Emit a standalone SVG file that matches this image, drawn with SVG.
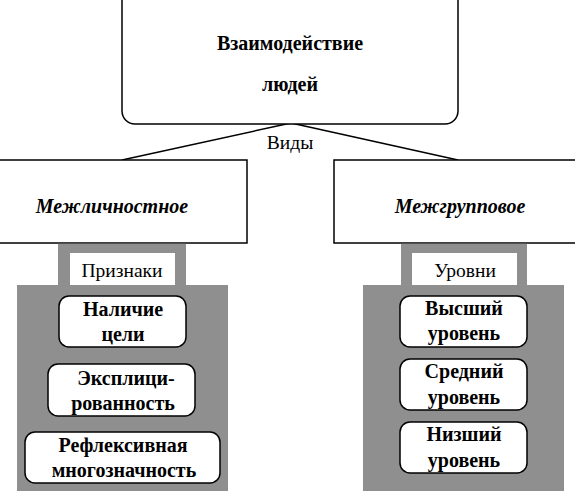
<svg xmlns="http://www.w3.org/2000/svg" width="575" height="491" viewBox="0 0 575 491">
<style>
.box{fill:#fff;stroke:#000;stroke-width:1.5}
.rb{fill:#fff;stroke:#000;stroke-width:1.5}
.gray{fill:#8f8f8f}
.lbl{fill:#fff}
text{font-family:'Liberation Serif','Times New Roman','DejaVu Serif',serif;fill:#000;text-anchor:middle}
.b{font-weight:bold;font-size:20px}
.bi{font-weight:bold;font-style:italic;font-size:20px}
.r{font-size:19.5px}
</style>
<rect width="575" height="491" fill="#fff"/>
<g id="connectors" stroke="#000" stroke-width="1.5" fill="none">
<line x1="291" y1="123" x2="122" y2="160"/>
<line x1="291" y1="123" x2="458" y2="160"/>
</g>
<g id="root">
<rect class="rb" x="122" y="-12" width="336" height="136" rx="13"/>
<text class="b" x="290" y="50">Взаимодействие</text>
<text class="b" x="290" y="91">людей</text>
</g>
<text id="vidy" class="r" x="290" y="149">Виды</text>
<g id="interpersonal">
<rect class="box" x="-2" y="160" width="249" height="83"/>
<text class="bi" x="112" y="213">Межличностное</text>
</g>
<g id="intergroup">
<rect class="box" x="334" y="160" width="243" height="83"/>
<text class="bi" x="460" y="213">Межгрупповое</text>
</g>
<g id="priznaki">
<rect class="gray" x="58" y="243.8" width="128" height="42"/>
<rect class="lbl" x="70" y="253" width="105" height="32"/>
<text class="r" x="122" y="277">Признаки</text>
</g>
<g id="urovni">
<rect class="gray" x="401" y="243.8" width="126" height="42"/>
<rect class="lbl" x="412" y="253" width="105" height="32"/>
<text class="r" x="465" y="277">Уровни</text>
</g>
<rect id="left-panel" class="gray" x="17" y="285" width="211" height="206"/>
<rect id="right-panel" class="gray" x="363" y="285" width="201" height="206"/>
<g id="nalichie">
<rect class="rb" x="59" y="296" width="127" height="51" rx="10"/>
<text class="b" x="123" y="316">Наличие</text>
<text class="b" x="123" y="341">цели</text>
</g>
<g id="explicit">
<rect class="rb" x="48" y="364" width="147" height="52" rx="10"/>
<text class="b" x="126" y="385">Эксплици-</text>
<text class="b" x="123" y="410">рованность</text>
</g>
<g id="reflex">
<rect class="rb" x="25" y="432" width="195" height="51" rx="10"/>
<text class="b" x="123" y="452">Рефлексивная</text>
<text class="b" x="124" y="477">многозначность</text>
</g>
<g id="high">
<rect class="rb" x="400" y="296" width="127" height="51" rx="10"/>
<text class="b" x="464" y="315">Высший</text>
<text class="b" x="464" y="340">уровень</text>
</g>
<g id="mid">
<rect class="rb" x="400" y="359" width="127" height="51" rx="10"/>
<text class="b" x="464" y="378">Средний</text>
<text class="b" x="464" y="404">уровень</text>
</g>
<g id="low">
<rect class="rb" x="400" y="422" width="127" height="51" rx="10"/>
<text class="b" x="464" y="441">Низший</text>
<text class="b" x="464" y="467">уровень</text>
</g>
</svg>
